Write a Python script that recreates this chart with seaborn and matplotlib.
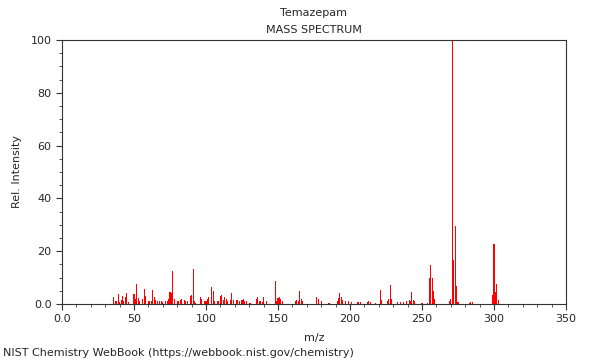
import pandas as pd
import matplotlib.pyplot as plt
from matplotlib.ticker import MultipleLocator
import seaborn as sns

# peak list (m/z, relative intensity %)
mz = [36, 37, 38, 39, 40, 41, 42, 43, 44, 45, 46,
      50, 51, 52, 53, 54, 56, 57, 58, 60, 61, 62, 63, 64, 65, 66, 68, 69, 70,
      72, 73, 74, 75, 76, 77, 78, 80, 81, 82, 83, 85, 86, 87, 89, 90, 91, 92, 93,
      96, 97, 99, 100, 101, 102, 104, 105, 106, 108, 109, 110, 111, 112, 113, 114, 115,
      117, 118, 119, 121, 122, 123, 125, 126, 127, 128, 130, 131,
      135, 136, 137, 138, 139, 140, 142, 148, 149, 150, 151, 152, 153,
      162, 163, 164, 165, 166, 167, 177, 178, 180, 185, 186,
      191, 192, 193, 194, 195, 197, 199, 201, 205, 206, 207, 212, 213, 214, 218,
      221, 222, 226, 227, 228, 229, 233, 235, 237, 239, 241, 242, 243, 244, 245, 250,
      254, 255, 256, 257, 258, 259, 269, 270, 271, 272, 273, 274, 275,
      283, 284, 285, 299, 300, 301, 302, 303]
intensity = [2.5, 1.0, 1.3, 3.7, 0.8, 1.5, 2.9, 1.0, 2.7, 4.2, 0.8,
             3.8, 2.0, 7.6, 2.3, 1.2, 2.0, 5.6, 3.0, 1.0, 1.2, 1.0, 5.3, 2.5, 1.5, 1.0, 1.0, 1.2, 0.8,
             1.0, 1.2, 2.0, 4.5, 4.0, 12.5, 2.0, 1.0, 1.0, 1.5, 2.0, 1.5, 1.0, 1.0, 3.0, 3.3, 13.2, 1.0, 0.5,
             2.7, 2.0, 1.2, 1.2, 1.8, 2.5, 6.4, 4.8, 1.0, 1.0, 1.0, 3.0, 3.5, 1.5, 2.5, 2.0, 1.0,
             1.5, 4.2, 1.5, 1.5, 1.5, 1.2, 1.5, 1.8, 1.2, 1.0, 0.5, 0.5,
             1.8, 2.5, 1.2, 1.0, 0.8, 2.5, 1.0, 8.8, 1.2, 2.3, 2.5, 1.8, 1.0,
             1.2, 1.5, 1.2, 4.8, 2.0, 1.0, 2.5, 1.8, 1.0, 0.5, 0.5,
             1.2, 2.2, 4.2, 2.5, 1.5, 1.2, 1.0, 0.7, 0.8, 0.8, 0.6, 0.8, 1.0, 0.8, 0.4,
             5.2, 1.5, 1.3, 2.0, 7.3, 1.8, 0.8, 0.8, 0.8, 1.0, 1.5, 1.2, 4.5, 1.5, 1.0, 0.5,
             0.5, 9.8, 14.9, 9.8, 4.8, 1.8, 1.3, 1.8, 100.0, 16.5, 29.5, 6.8, 0.7,
             0.5, 0.7, 0.6, 3.4, 22.7, 4.7, 7.5, 1.5]

compound = "Temazepam"
x_ticks = [0, 50, 100, 150, 200, 250, 300, 350]
x_tick_labels = ["0.0", "50", "100", "150", "200", "250", "300", "350"]
y_ticks = [0, 20, 40, 60, 80, 100]
y_tick_labels = ["0.0", "20", "40", "60", "80", "100"]

df = pd.DataFrame({"mz": mz, "intensity": intensity})

sns.set_style("ticks")
plt.rcParams['font.family'] = ['DejaVu Sans']
plt.rcParams['font.size'] = 8

fig = plt.figure(figsize=(6, 3.6), dpi=100)
ax = fig.add_axes([62 / 600, 56 / 360, 504 / 600, 264 / 360])

sns.barplot(data=df, x="mz", y="intensity", native_scale=True, color="#ff0000",
            saturation=1, width=0.7, errorbar=None, linewidth=0, ax=ax)

ax.set_xlim(0, 350)
ax.set_ylim(0, 100)
ax.set_xticks(x_ticks)
ax.set_xticklabels(x_tick_labels)
ax.set_yticks(y_ticks)
ax.set_yticklabels(y_tick_labels)
ax.xaxis.set_minor_locator(MultipleLocator(10))
ax.yaxis.set_minor_locator(MultipleLocator(5))
ax.tick_params(which="major", length=4, width=0.8, color="#333333", labelsize=8)
ax.tick_params(which="minor", length=2, width=0.6, color="#333333")
for s in ax.spines.values():
    s.set_visible(True)
    s.set_color("#333333")
    s.set_linewidth(0.8)

ax.set_xlabel("m/z", fontsize=8, labelpad=6)
ax.set_ylabel("Rel. Intensity", fontsize=8, labelpad=6)

fig.text(314 / 600, 1 - 13 / 360, compound, ha="center", va="center", fontsize=8)
fig.text(314 / 600, 1 - 30 / 360, "MASS SPECTRUM", ha="center", va="center", fontsize=8)
fig.text(3 / 600, 1 - 353 / 360, "NIST Chemistry WebBook (https://webbook.nist.gov/chemistry)",
         ha="left", va="center", fontsize=8)

fig.savefig("out.png", dpi=100)
plt.close(fig)
